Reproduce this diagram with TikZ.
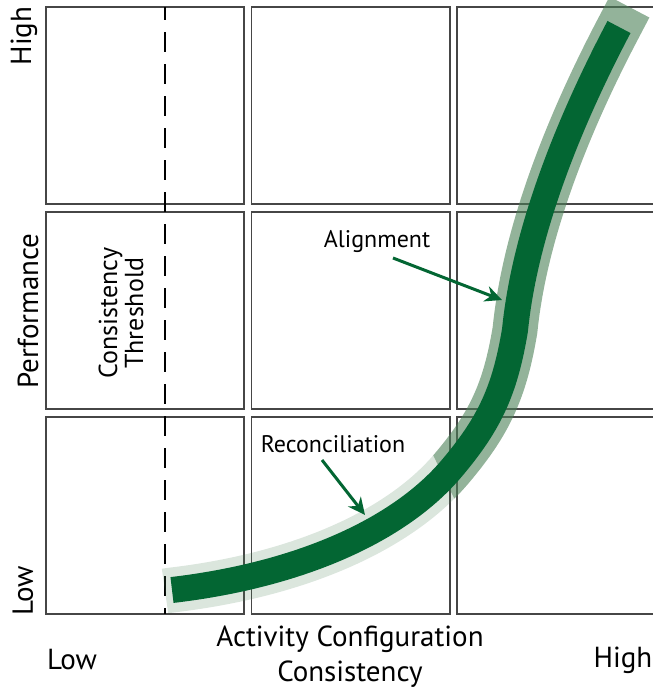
\documentclass[tikz,border=0pt]{standalone}
\usepackage{fontspec}
\setmainfont{PT Sans}
\usetikzlibrary{arrows.meta}
\definecolor{dkgreen}{RGB}{3,102,51}
\definecolor{halogreen}{RGB}{75,128,87}
\definecolor{gridgray}{RGB}{70,70,70}
\begin{document}
\begin{tikzpicture}[x=1pt,y=-1pt,
  cell/.style={draw=gridgray, line width=1.3pt},
  lbl/.style={font=\fontsize{24}{28}\selectfont, inner sep=0pt},
  axislbl/.style={font=\fontsize{29}{35}\selectfont, inner sep=0pt},
  pointer/.style={draw=dkgreen, line width=3pt, -{Stealth[length=17pt,width=16pt]}},
  band/.style={draw=dkgreen, line width=26pt, line cap=butt},
  halolight/.style={draw=halogreen, draw opacity=0.2, line width=45pt, line cap=butt},
  halodark/.style={draw=halogreen, draw opacity=0.6, line width=45pt, line cap=rect},
  threshold/.style={draw=black, line width=2.5pt, dash pattern=on 20pt off 12pt, dash phase=7pt}
]
\useasboundingbox (0,0) rectangle (653,694);
% grid cells
\foreach \xa/\xb in {46/244, 251.5/450, 457/656}{
  \foreach \ya/\yb in {7/204, 212/409, 417/614}{
    \draw[cell] (\xa,\ya) rectangle (\xb,\yb);
  }
}
% threshold
\coordinate (thtop) at (165,7);
\coordinate (thbot) at (165,614);
\draw[threshold] (thtop) -- (thbot);
% curve
\coordinate (ps) at (165,591);
\coordinate (p0) at (172,590);
\coordinate (p1) at (452,468);
\coordinate (p2) at (515,330);
\coordinate (p3) at (619,27);
\begin{scope}
  \clip (383,352) -- (560,716) -- (0,716) -- (0,352) -- cycle;
  \draw[halolight] (ps) -- (p0) .. controls (300,575) and (400,530) .. (p1) .. controls (490,423) and (505,390) .. (p2);
\end{scope}
\begin{scope}
  \clip (383,352) -- (560,716) -- (720,716) -- (720,-30) -- (383,-30) -- cycle;
  \draw[halodark] (p0) .. controls (300,575) and (400,530) .. (p1) .. controls (490,423) and (505,390) .. (p2) .. controls (525,230) and (570,120) .. (p3);
\end{scope}
\draw[band] (p0) .. controls (300,575) and (400,530) .. (p1) .. controls (490,423) and (505,390) .. (p2) .. controls (525,230) and (570,120) .. (p3);
% labels and pointers
\node[lbl] (align) at (377,242) {Alignment};
\node[lbl] (recon) at (333,444) {Reconciliation};
\coordinate (a1s) at (393,258);
\coordinate (a1e) at (502,300);
\coordinate (a2s) at (322,460);
\coordinate (a2e) at (365,515);
\draw[pointer] (a1s) -- (a1e);
\draw[pointer] (a2s) -- (a2e);
\node[inner sep=0pt, rotate=90, align=center, font=\fontsize{26}{26}\selectfont] (thr) at (121,313) {Consistency\\Threshold};
% axis labels
\node[axislbl, rotate=90] (yhigh) at (24,36) {High};
\node[axislbl, rotate=90] (yperf) at (28,311) {Performance};
\node[axislbl, rotate=90] (ylow) at (23,591) {Low};
\node[axislbl] (xlow) at (72,660) {Low};
\node[axislbl, align=center] (xtitle) at (350,657) {Activity Configuration\\Consistency};
\node[axislbl] (xhigh) at (623,660) {High};
\end{tikzpicture}
\end{document}
